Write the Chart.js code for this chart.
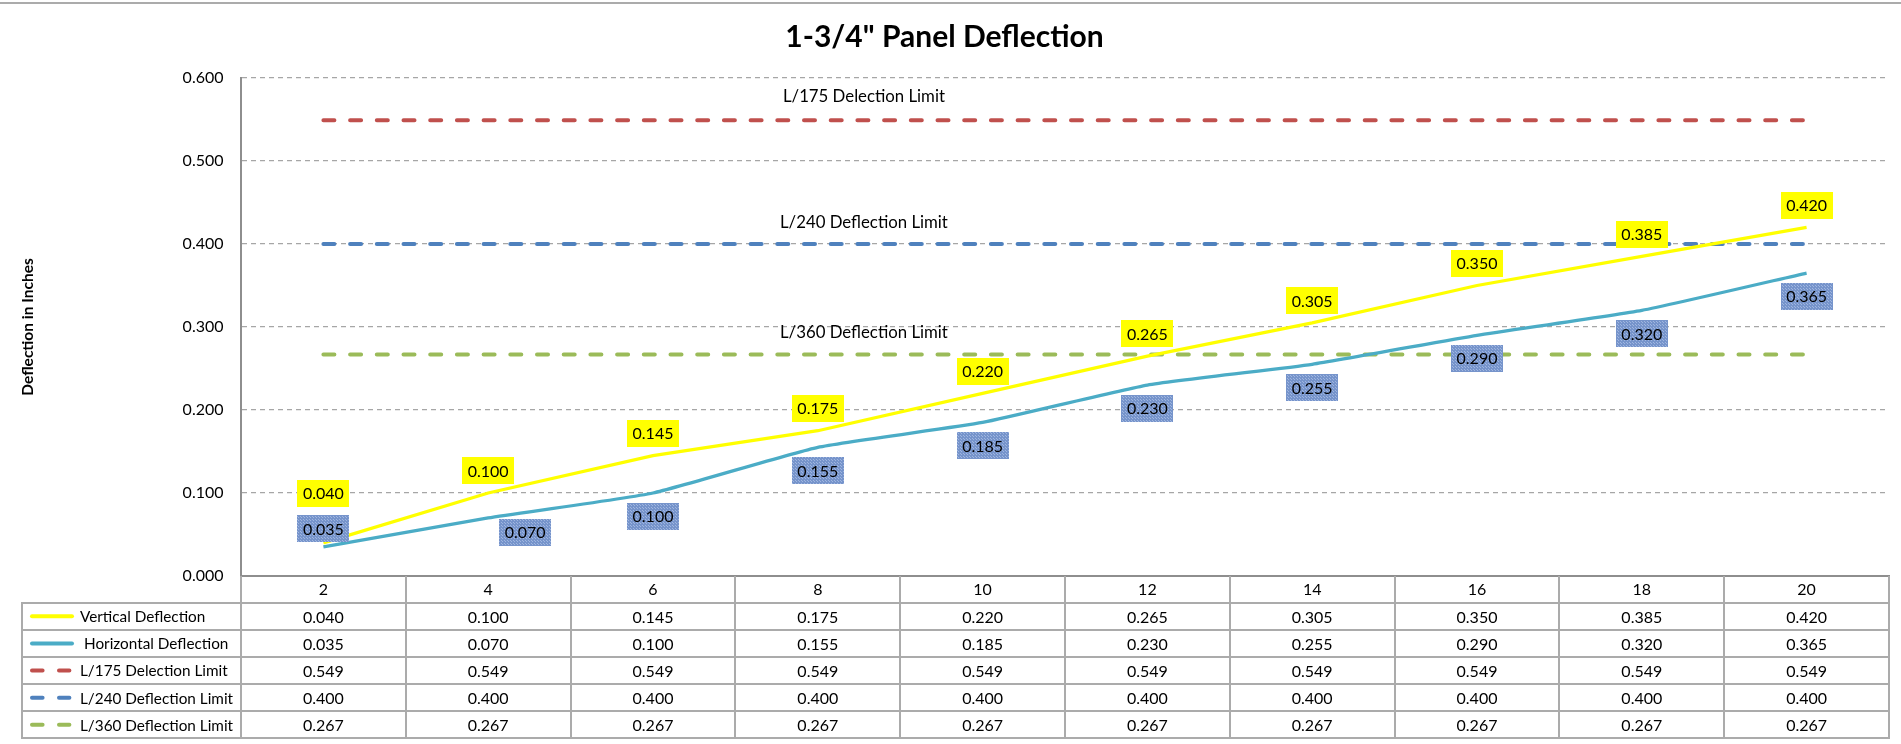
<!DOCTYPE html>
<html>
<head>
<meta charset="utf-8">
<script src="https://cdn.jsdelivr.net/npm/chart.js@4.4.1/dist/chart.umd.min.js"></script>
<style>
  html, body { margin: 0; padding: 0; background: #ffffff; }
  #wrap { width: 1901px; height: 744px; position: relative; }
</style>
</head>
<body>
<div id="wrap"><canvas id="chart"></canvas></div>
<script>
// ---------------- DATA ----------------
const chartTitle = '1-3/4" Panel Deflection';
const yAxisTitle = 'Deflection in Inches';
const categories = ['2', '4', '6', '8', '10', '12', '14', '16', '18', '20'];
const yTickValues = [0.0, 0.1, 0.2, 0.3, 0.4, 0.5, 0.6];
const verticalDeflection   = [0.040, 0.100, 0.145, 0.175, 0.220, 0.265, 0.305, 0.350, 0.385, 0.420];
const horizontalDeflection = [0.035, 0.070, 0.100, 0.155, 0.185, 0.230, 0.255, 0.290, 0.320, 0.365];
const limitL175 = [0.549, 0.549, 0.549, 0.549, 0.549, 0.549, 0.549, 0.549, 0.549, 0.549];
const limitL240 = [0.400, 0.400, 0.400, 0.400, 0.400, 0.400, 0.400, 0.400, 0.400, 0.400];
const limitL360 = [0.267, 0.267, 0.267, 0.267, 0.267, 0.267, 0.267, 0.267, 0.267, 0.267];
const seriesNames = ['Vertical Deflection', 'Horizontal Deflection', 'L/175 Delection Limit', 'L/240 Deflection Limit', 'L/360 Deflection Limit'];
const limitAnnotationTexts = ['L/175 Delection Limit', 'L/240 Deflection Limit', 'L/360 Deflection Limit'];

// ---------------- STYLE ----------------
const FONT = 'Lato, "Open Sans", "DejaVu Sans", sans-serif';
const TEXT_SIZE = 16;
const LEGEND_SIZE = 15.3;
const ANNOT_SIZE = 16.8;
const colors = {
  vertical: '#FFFF00',
  horizontal: '#4BACC6',
  l175: '#C0504D',
  l240: '#4F81BD',
  l360: '#9BBB59',
  grid: '#A6A6A6',
  axis: '#8E8E8E',
  table: '#ABABAB',
  text: '#000000'
};
const limitDash = [11, 15.7];
// label placement (pixel offsets of label box centre relative to its point)
const vLabelOffset = { dx: 0, dy: -22.5 };
const hLabelOffset = { dx: 0, dy: 23 };
const vLabelOverrides = { 0: { dx: 0, dy: -49.5 } };
const hLabelOverrides = { 0: { dx: 0, dy: -18.5 }, 1: { dx: 37, dy: 14.3 } };
const annotationIndexPos = 3.28;   // position along category axis (index units)
const annotationDy = [-24, -21, -21.5];
const tableHeaderH = 26.8;
const tableRowH = 27.1;
const tableLeft = 22;

// blue dotted pattern for horizontal labels
function makeBluePattern(ctx) {
  const c = document.createElement('canvas');
  c.width = 3; c.height = 3;
  const g = c.getContext('2d');
  g.fillStyle = '#7694CB';
  g.fillRect(0, 0, 3, 3);
  g.fillStyle = '#A0B6E0';
  g.fillRect(0, 0, 1, 1);
  g.fillRect(1, 1, 1, 1);
  return ctx.createPattern(c, 'repeat');
}

const topBorderPlugin = {
  id: 'topBorder',
  beforeDraw(chart) {
    const ctx = chart.ctx;
    ctx.save();
    ctx.strokeStyle = '#ABABAB';
    ctx.lineWidth = 2;
    ctx.beginPath();
    ctx.moveTo(0, 3);
    ctx.lineTo(chart.width, 3);
    ctx.stroke();
    ctx.restore();
  }
};

const annotationPlugin = {
  id: 'limitAnnotations',
  afterDatasetsDraw(chart) {
    const ctx = chart.ctx, xs = chart.scales.x, ys = chart.scales.y;
    const limits = [limitL175, limitL240, limitL360];
    ctx.save();
    ctx.font = ANNOT_SIZE + 'px ' + FONT;
    ctx.fillStyle = colors.text;
    ctx.textAlign = 'center';
    ctx.textBaseline = 'middle';
    limitAnnotationTexts.forEach((t, i) => {
      const x = xs.getPixelForValue(annotationIndexPos);
      const y = ys.getPixelForValue(limits[i][0]) + annotationDy[i];
      ctx.fillText(t, x, y);
    });
    ctx.restore();
  }
};

const dataLabelPlugin = {
  id: 'dataLabels',
  afterDatasetsDraw(chart) {
    const ctx = chart.ctx;
    const pattern = makeBluePattern(ctx);
    ctx.save();
    ctx.font = TEXT_SIZE + 'px ' + FONT;
    ctx.textAlign = 'center';
    ctx.textBaseline = 'middle';
    const sets = [
      { ds: 0, values: verticalDeflection, fill: colors.vertical, off: vLabelOffset, ov: vLabelOverrides },
      { ds: 1, values: horizontalDeflection, fill: pattern, off: hLabelOffset, ov: hLabelOverrides }
    ];
    sets.forEach(s => {
      const meta = chart.getDatasetMeta(s.ds);
      meta.data.forEach((pt, i) => {
        const o = s.ov[i] || s.off;
        const txt = s.values[i].toFixed(3);
        const w = ctx.measureText(txt).width + 11;
        const h = 26.7;
        const cx = pt.x + o.dx, cy = pt.y + o.dy;
        ctx.fillStyle = s.fill;
        ctx.fillRect(Math.round(cx - w / 2), Math.round(cy - h / 2), Math.round(w), Math.round(h));
        ctx.fillStyle = colors.text;
        ctx.fillText(txt, cx, cy + 1);
      });
    });
    ctx.restore();
  }
};

const tablePlugin = {
  id: 'dataTable',
  afterDraw(chart) {
    const ctx = chart.ctx, xs = chart.scales.x, area = chart.chartArea;
    const n = categories.length;
    const bounds = [];
    for (let i = 0; i <= n; i++) {
      if (i === 0) bounds.push(area.left);
      else if (i === n) bounds.push(area.right);
      else bounds.push((xs.getPixelForValue(i - 1) + xs.getPixelForValue(i)) / 2);
    }
    const rows = [verticalDeflection, horizontalDeflection, limitL175, limitL240, limitL360];
    const top = area.bottom;
    const y0 = top + tableHeaderH;
    const bottom = y0 + rows.length * tableRowH;
    ctx.save();
    ctx.strokeStyle = colors.table;
    ctx.lineWidth = 2;
    ctx.beginPath();
    for (let r = 0; r <= rows.length; r++) {
      const y = Math.round(y0 + r * tableRowH);
      ctx.moveTo(tableLeft, y);
      ctx.lineTo(area.right + 1, y);
    }
    ctx.moveTo(tableLeft, Math.round(y0) - 1);
    ctx.lineTo(tableLeft, Math.round(bottom) + 1);
    bounds.forEach((bx) => {
      const x = Math.round(bx);
      ctx.moveTo(x, top);
      ctx.lineTo(x, Math.round(bottom) + 1);
    });
    ctx.stroke();

    // values
    ctx.font = TEXT_SIZE + 'px ' + FONT;
    ctx.fillStyle = colors.text;
    ctx.textAlign = 'center';
    ctx.textBaseline = 'middle';
    rows.forEach((vals, r) => {
      const cy = y0 + r * tableRowH + tableRowH / 2 + 1;
      vals.forEach((v, i) => {
        ctx.fillText(v.toFixed(3), (bounds[i] + bounds[i + 1]) / 2, cy);
      });
    });

    // legend keys
    const keyColors = [colors.vertical, colors.horizontal, colors.l175, colors.l240, colors.l360];
    ctx.textAlign = 'left';
    ctx.font = LEGEND_SIZE + 'px ' + FONT;
    rows.forEach((vals, r) => {
      const cy = y0 + r * tableRowH + tableRowH / 2;
      ctx.strokeStyle = keyColors[r];
      ctx.lineWidth = 4;
      ctx.lineCap = 'round';
      ctx.beginPath();
      if (r < 2) {
        ctx.moveTo(32, cy); ctx.lineTo(72, cy);
      } else {
        ctx.moveTo(32, cy); ctx.lineTo(42.6, cy);
        ctx.moveTo(59, cy); ctx.lineTo(69.4, cy);
      }
      ctx.stroke();
      ctx.fillText(seriesNames[r], r === 1 ? 84 : 80, cy + 1);
    });
    ctx.restore();
  }
};

const lineDs = (label, data, color, width, dash, tension) => ({
  label, data,
  borderColor: color,
  backgroundColor: color,
  borderWidth: width,
  borderDash: dash,
  borderCapStyle: dash.length ? 'round' : 'butt',
  pointRadius: 0,
  pointHoverRadius: 0,
  tension: tension,
  fill: false
});

new Chart(document.getElementById('chart'), {
  type: 'line',
  data: {
    labels: categories,
    datasets: [
      lineDs(seriesNames[0], verticalDeflection, colors.vertical, 3.3, [], 0),
      lineDs(seriesNames[1], horizontalDeflection, colors.horizontal, 3.3, [], 0.15),
      lineDs(seriesNames[2], limitL175, colors.l175, 4, limitDash, 0),
      lineDs(seriesNames[3], limitL240, colors.l240, 4, limitDash, 0),
      lineDs(seriesNames[4], limitL360, colors.l360, 4, limitDash, 0)
    ]
  },
  options: {
    responsive: true,
    maintainAspectRatio: false,
    animation: false,
    layout: { padding: { left: 0, right: 12, top: 0, bottom: 0 } },
    plugins: {
      legend: { display: false },
      tooltip: { enabled: false },
      title: {
        display: true,
        text: chartTitle,
        color: '#000',
        font: { family: FONT, size: 30, weight: 'bold', lineHeight: 1.2 },
        padding: { top: 19.5, bottom: 22.5 }
      }
    },
    scales: {
      x: {
        type: 'category',
        offset: true,
        grid: { display: false, drawTicks: false },
        border: { display: true, color: colors.axis, width: 2 },
        ticks: {
          color: colors.text,
          font: { family: FONT, size: TEXT_SIZE },
          padding: 4,
          maxRotation: 0,
          autoSkip: false
        },
        afterFit(s) { s.height = 168; }
      },
      y: {
        min: 0,
        max: 0.6,
        afterBuildTicks(s) { s.ticks = yTickValues.map(v => ({ value: v })); },
        grid: { color: colors.grid, lineWidth: 1.3, drawTicks: false },
        border: { display: true, color: colors.axis, width: 2, dash: [5, 4] },
        ticks: {
          color: colors.text,
          font: { family: FONT, size: TEXT_SIZE },
          padding: 17.5,
          callback: v => Number(v).toFixed(3)
        },
        title: {
          display: true,
          text: yAxisTitle,
          color: '#000',
          font: { family: FONT, size: 15.5, weight: 'bold' },
          padding: { top: 19, bottom: 0 }
        },
        afterFit(s) { s.width = 241; }
      }
    }
  },
  plugins: [topBorderPlugin, annotationPlugin, dataLabelPlugin, tablePlugin]
});
</script>
</body>
</html>
